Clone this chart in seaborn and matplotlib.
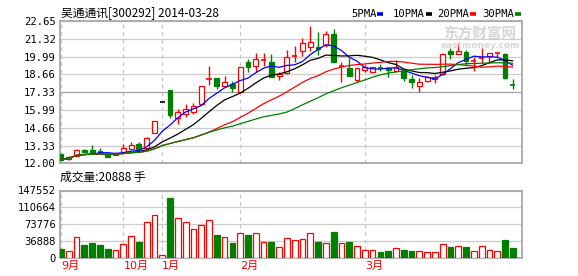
import numpy as np
import pandas as pd
import matplotlib
matplotlib.use("Agg")
import matplotlib.pyplot as plt
from matplotlib.lines import Line2D
import seaborn as sns

sns.set_theme(style="white")
plt.rcParams["font.family"] = ["DejaVu Sans", "Noto Sans CJK SC"]

# ---------------- data ----------------
title = "吴通通讯[300292] 2014-03-28"
opens = [12.68, 12.33, 12.57, 12.98, 13.00, 12.90, 12.73, 12.62, 12.87, 13.10,
         13.42, 13.15, 14.24, 16.57, 17.49, 15.37, 15.67, 15.86, 16.42, 18.27,
         18.36, 17.81, 17.93, 17.31, 19.60, 19.28, 19.71, 19.60, 18.53, 18.73,
         20.03, 20.43, 20.73, 20.73, 20.85, 21.68, 19.26, 19.11, 18.23, 18.98,
         18.86, 19.17, 19.16, 18.93, 18.93, 18.31, 17.81, 18.18, 18.31, 18.66,
         20.43, 20.20, 20.31, 19.64, 19.84, 20.01, 20.21, 20.16, 17.88]
highs = [12.72, 12.55, 13.08, 13.05, 13.37, 13.15, 12.78, 12.80, 13.42, 13.62,
         13.62, 14.00, 15.16, 16.57, 17.49, 16.06, 16.42, 16.49, 17.80, 19.28,
         18.40, 18.53, 18.18, 19.18, 19.78, 20.23, 20.28, 20.18, 18.86, 20.48,
         20.78, 21.35, 22.28, 21.85, 21.93, 22.05, 19.60, 19.86, 19.11, 19.35,
         19.20, 19.40, 19.20, 19.73, 18.98, 18.61, 18.36, 18.50, 18.61, 20.28,
         20.60, 20.98, 20.48, 19.98, 20.60, 20.28, 20.35, 20.23, 18.31]
lows = [12.22, 12.28, 12.52, 12.80, 12.80, 12.75, 12.45, 12.60, 12.85, 13.05,
        13.02, 13.10, 14.24, 16.57, 15.41, 14.92, 15.49, 15.71, 16.38, 17.86,
        17.55, 17.73, 17.36, 17.31, 18.86, 18.86, 19.30, 18.48, 18.23, 18.68,
        19.60, 20.05, 20.40, 20.10, 20.73, 19.60, 18.11, 18.53, 18.06, 18.85,
        18.80, 18.90, 18.48, 18.90, 18.18, 17.66, 17.31, 18.10, 17.99, 18.60,
        19.78, 20.18, 19.36, 18.91, 19.48, 19.48, 19.98, 18.31, 17.56]
closes = [12.28, 12.48, 13.02, 12.83, 12.82, 12.78, 12.50, 12.78, 13.12, 13.35,
          13.05, 13.90, 15.16, 16.57, 15.63, 15.82, 16.04, 16.31, 17.78, 18.30,
          17.81, 18.05, 17.61, 19.18, 19.23, 19.81, 19.74, 18.48, 18.66, 19.93,
          20.06, 20.98, 21.06, 20.58, 21.68, 19.60, 19.29, 18.56, 19.11, 19.23,
          19.18, 19.14, 18.98, 19.18, 18.36, 18.11, 18.11, 18.46, 18.48, 20.16,
          20.18, 20.40, 19.68, 19.67, 19.87, 20.26, 20.24, 18.41, 17.85]
volumes = [19000, 14000, 44200, 27300, 31600, 27900, 19000, 16200, 29400, 46400,
           33800, 78100, 93600, 5000, 131800, 86300, 77400, 62600, 70800, 82500,
           49300, 44200, 31600, 53100, 49300, 53100, 33800, 33800, 22100, 42700,
           38300, 40500, 53100, 33800, 31000, 56000, 31000, 33800, 24300, 16200,
           16200, 11700, 13900, 20600, 16200, 13900, 13300, 11700, 11700, 29400,
           22800, 25000, 22800, 13900, 25000, 16200, 13900, 38300, 20888]
month_idx = [0, 8, 13, 23, 39]
month_labels = ["9月", "10月", "1月", "2月", "3月"]
price_ticks = [12.00, 13.33, 14.66, 15.99, 17.33, 18.66, 19.99, 21.32, 22.65]
vol_ticks = [0, 36888, 73776, 110664, 147552]
ma_windows = [5, 10, 20, 30]
ma_names = ["5PMA", "10PMA", "20PMA", "30PMA"]
ma_colors = ["#0000FF", "#000000", "#FF0000", "#008000"]
vol_title = "成交量:20888 手"

# ---------------- frame ----------------
n = len(closes)
df = pd.DataFrame({"i": np.arange(n), "open": opens, "high": highs,
                   "low": lows, "close": closes, "vol": volumes})
for w in ma_windows:
    df[f"ma{w}"] = df["close"].rolling(w, min_periods=1).mean()

RED, GREEN = "#FF0000", "#008000"
W, H = 578, 276
fig = plt.figure(figsize=(W / 100, H / 100), dpi=100)
fig.patch.set_facecolor("white")
ax = fig.add_axes([60 / W, 1 - 163.3 / H, 462 / W, 142.3 / H])
axv = fig.add_axes([60 / W, 1 - 257.5 / H, 462 / W, 67 / H])

xlim = (-0.13, 59.18)
for a in (ax, axv):
    a.set_xlim(*xlim)
    a.set_facecolor("white")
    for s in a.spines.values():
        s.set_color("#a8a8a8")
        s.set_linewidth(1.3)
    a.tick_params(length=0)
    a.set_xticks(month_idx)
    a.xaxis.grid(True, color="#c4c4c4", linestyle=(0, (3, 3)), linewidth=0.9)
    a.yaxis.grid(True, color="#cccccc", linestyle="-", linewidth=0.9)
    a.set_axisbelow(True)

# ---------------- candles ----------------
for r in df.itertuples():
    if r.close > r.open:
        col, face = RED, "white"
    elif r.close < r.open:
        col, face = GREEN, GREEN
    else:
        col, face = "#000000", "#000000"
    ax.vlines(r.i, r.low, r.high, color=col, linewidth=1.0, zorder=3)
    hgt = abs(r.close - r.open)
    bottom = min(r.open, r.close)
    if hgt < 0.05:
        ax.hlines(r.close, r.i - 0.33, r.i + 0.33, color=col, linewidth=1.2, zorder=4)
    else:
        ax.bar(r.i, hgt, bottom=bottom, width=0.62, facecolor=face,
               edgecolor=col, linewidth=0.9, zorder=4)

for w, c in zip(ma_windows, ma_colors):
    sns.lineplot(data=df, x="i", y=f"ma{w}", color=c, linewidth=0.9,
                 ax=ax, legend=False, zorder=5)

ax.set_ylim(12.00, 22.65)
ax.set_yticks(price_ticks)
ax.set_yticklabels([f"{t:.2f}" for t in price_ticks],
                   fontfamily="DejaVu Sans Mono", fontsize=7.6, color="#000000")
ax.tick_params(axis="y", pad=3)
ax.set_xticklabels([])
ax.set_xlabel("")
ax.set_ylabel("")
gl = ax.get_ygridlines()
gl[4].set_color("#a0a0a0")

# ---------------- volume ----------------
for r in df.itertuples():
    if r.close >= r.open:
        axv.bar(r.i, r.vol, width=0.74, facecolor="white", edgecolor=RED,
                linewidth=0.9, zorder=3)
    else:
        axv.bar(r.i, r.vol, width=0.74, facecolor=GREEN, edgecolor=GREEN,
                linewidth=0.9, zorder=3)
axv.set_ylim(0, 147552)
axv.set_yticks(vol_ticks)
axv.set_yticklabels([str(v) for v in vol_ticks], fontsize=7.2, color="#000000")
axv.tick_params(axis="y", pad=3)
axv.set_xticklabels(month_labels, color=RED, fontsize=8,
                    family=["DejaVu Sans", "Noto Sans CJK SC"])
for t in axv.get_xticklabels():
    t.set_horizontalalignment("left")
axv.tick_params(axis="x", pad=2.5)
axv.set_xlabel("")
axv.set_ylabel("")

# ---------------- texts ----------------
fig.text(61 / W, 1 - 13 / H, title, ha="left", va="center", fontsize=8.5,
         family=["Noto Sans CJK SC", "DejaVu Sans"], color="#000000")
fig.text(60 / W, 1 - 177 / H, vol_title, ha="left", va="center", fontsize=8.5,
         family=["Noto Sans CJK SC", "DejaVu Sans"], color="#000000")

leg_x = [351, 393, 437, 482]
dash_x = [377, 426, 470, 515]
for name, c, lx, dx in zip(ma_names, ma_colors, leg_x, dash_x):
    fig.text(lx / W, 1 - 14 / H, name, ha="left", va="center",
             fontsize=7.6, fontfamily="DejaVu Sans Mono", color="#000000")
    fig.add_artist(Line2D([dx / W, (dx + 6) / W], [1 - 14 / H, 1 - 14 / H],
                          color=c, linewidth=2.6, solid_capstyle="butt"))

# watermark
fig.text(480 / W, 1 - 34 / H, "东方财富网", ha="center", va="center",
         fontsize=10.5, fontweight="bold", color="#d6d6d6",
         family=["Noto Sans CJK SC", "DejaVu Sans"], zorder=0)
fig.text(480 / W, 1 - 46 / H, "eastmoney.com", ha="center", va="center",
         fontsize=6.5, fontweight="bold", color="#d6d6d6", zorder=0)

fig.savefig("out.png", dpi=100, facecolor="white")
